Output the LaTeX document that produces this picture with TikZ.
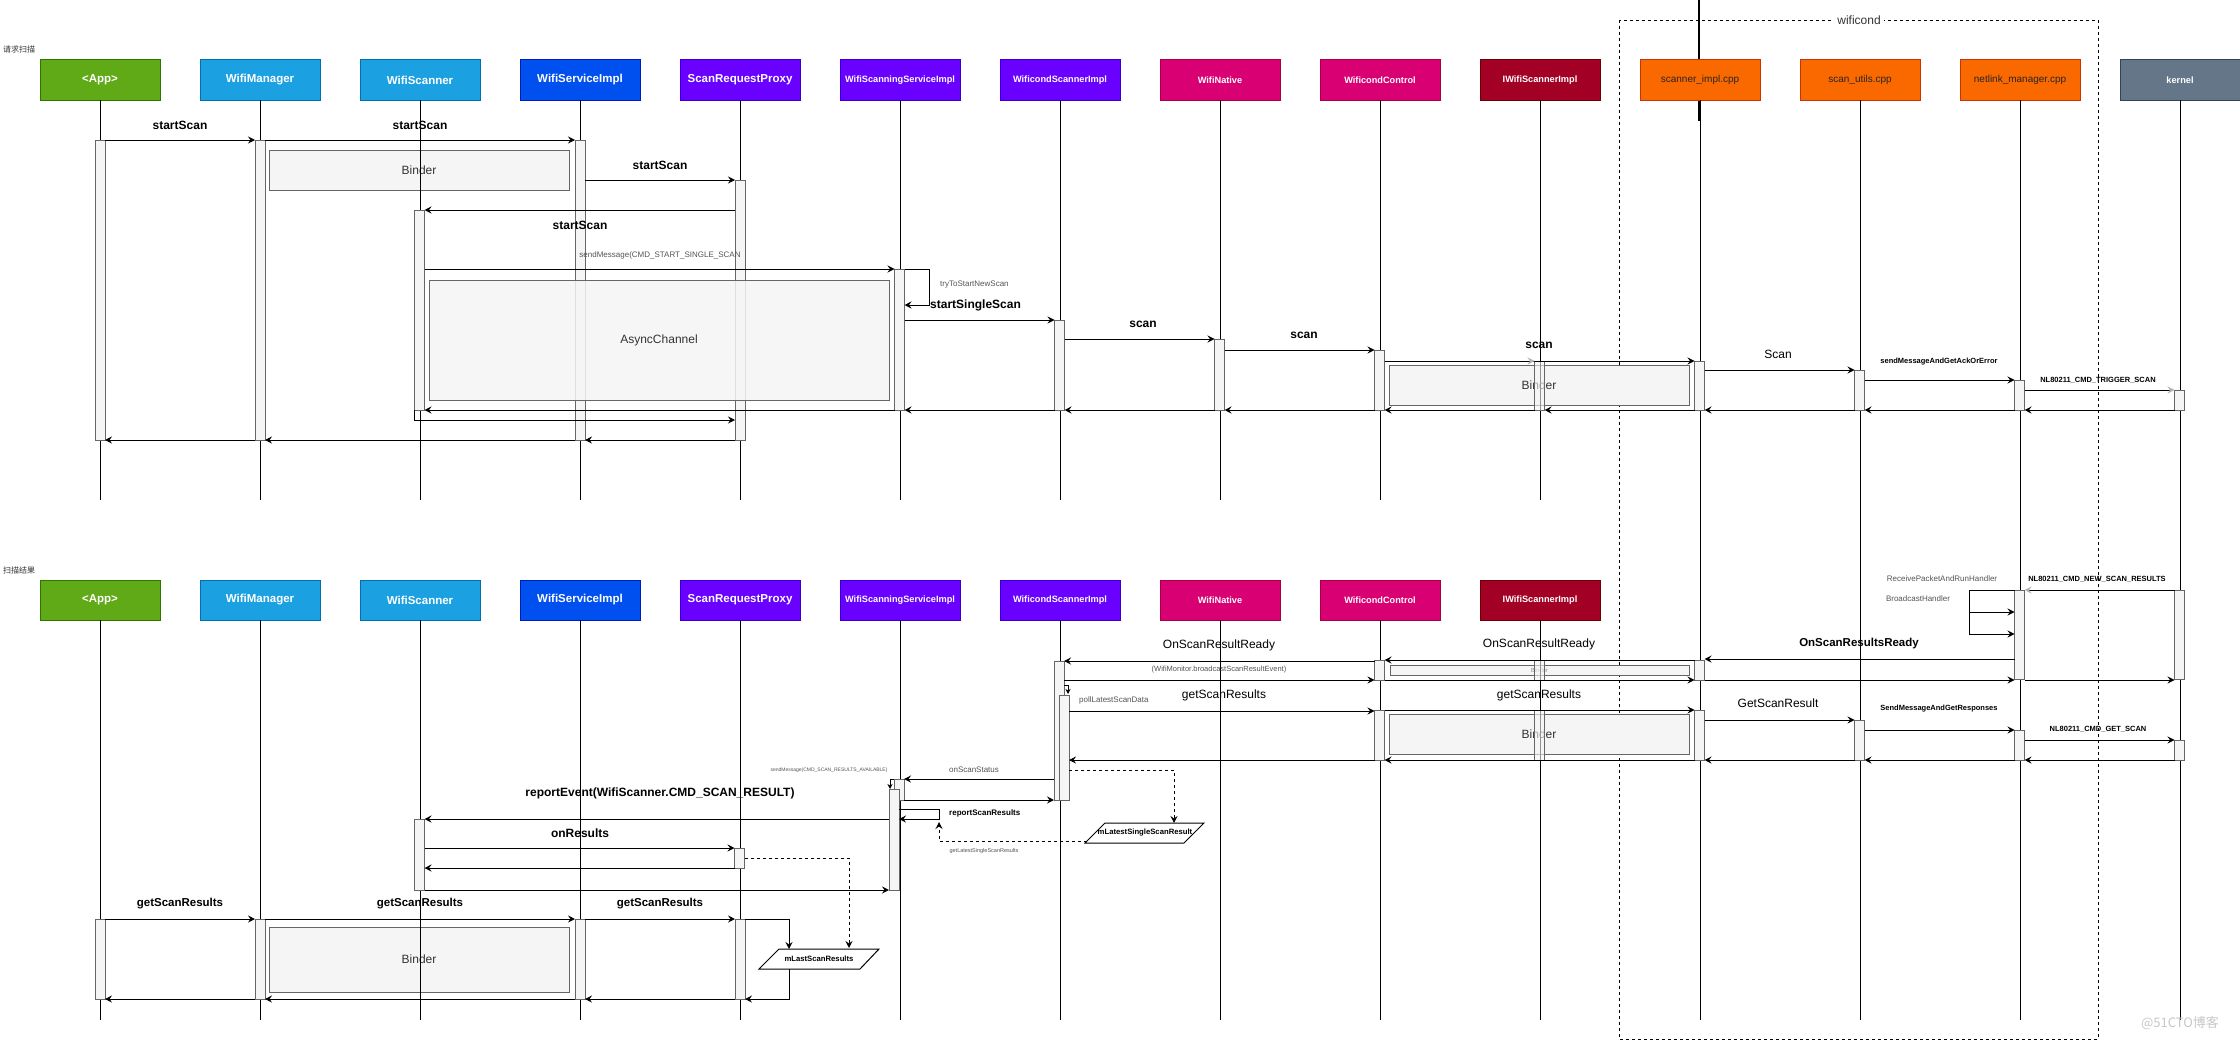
\documentclass[tikz,border=0pt]{standalone}
\usepackage{fontspec}
\setmainfont{Liberation Sans}
\newfontfamily\cjk{Noto Sans CJK SC}
\usetikzlibrary{arrows.meta}
\newcommand\fs[1]{\fontsize{#1pt}{#1pt}\selectfont}
\definecolor{cApp}{HTML}{60A917}\definecolor{bApp}{HTML}{2D7600}
\definecolor{cBlue}{HTML}{1BA1E2}\definecolor{bBlue}{HTML}{006EAF}
\definecolor{cCob}{HTML}{0050EF}\definecolor{bCob}{HTML}{001DBC}
\definecolor{cVio}{HTML}{6A00FF}\definecolor{bVio}{HTML}{3700CC}
\definecolor{cMag}{HTML}{D80073}\definecolor{bMag}{HTML}{A50040}
\definecolor{cCri}{HTML}{A20025}\definecolor{bCri}{HTML}{6F0000}
\definecolor{cOr}{HTML}{FA6800}\definecolor{bOr}{HTML}{C73500}
\definecolor{cSl}{HTML}{647687}\definecolor{bSl}{HTML}{314354}
\definecolor{barfill}{HTML}{F5F5F5}\definecolor{barline}{HTML}{666666}
\definecolor{tx3}{HTML}{333333}\definecolor{tx5}{HTML}{555555}
\begin{document}
\begin{tikzpicture}[x=1pt,y=-1pt,
 hdr/.style={draw,line width=1pt,minimum width=120pt,minimum height=40pt,inner sep=0pt,outer sep=0pt,text=white,font=\bfseries\fs{9.2}},
 hdrL/.style={hdr,font=\bfseries\fs{11.5}},
 hdrO/.style={hdr,fill=cOr,draw=bOr,text=black!85,font=\fs{10}},
 life/.style={line width=0.9pt,draw=black},
 actbar/.style={draw=barline,fill=barfill,line width=0.9pt,minimum width=10pt,inner sep=0pt,outer sep=0pt,anchor=north},
 msg/.style={line width=1pt,-{Stealth[length=7pt,width=7pt,inset=2.5pt]}},
 smsg/.style={line width=1pt,-{Stealth[length=5pt,width=5pt,inset=1.5pt]}},
 gmsg/.style={line width=1pt,-{Stealth[length=7pt,width=7pt,inset=2.5pt,color=black!30]}},
 dmsg/.style={msg,dash pattern=on 3pt off 3pt},
 seg/.style={line width=1pt},
 boxg/.style={draw=barline,fill=barfill,line width=1pt,text=tx3,font=\fs{12},inner sep=0pt,outer sep=0pt,anchor=north west},
 lb/.style={font=\bfseries\fs{12},inner sep=0pt},
 lr/.style={font=\fs{12},inner sep=0pt},
 sg/.style={font=\fs{8},text=tx5,inner sep=0pt},
 sb/.style={font=\bfseries\fs{7.5},inner sep=0pt},
]
\useasboundingbox[fill=white] (0,0) rectangle (2240,1041);
% thick line at top of scanner_impl
\coordinate (tl0) at (1699,0);
\coordinate (tl1) at (1699,121);
\draw[line width=1.6pt] (tl0) -- (tl1);
% wificond group
\draw[line width=0.8pt,dash pattern=on 3pt off 3pt] (1619,20) rectangle (2098,1039);
\node[fill=white,font=\fs{12},text=tx3,inner sep=3pt] (wfl) at (1859,20) {wificond};
% section titles
\node[font=\cjk\fs{8},text=tx3,anchor=west,inner sep=0pt] (t1) at (3,49) {请求扫描};
\node[font=\cjk\fs{8},text=tx3,anchor=west,inner sep=0pt] (t2) at (3,570) {扫描结果};
% ---------- headers top
\node[hdrL,fill=cApp,draw=bApp] (hA1) at (100,80) {<App>};
\node[hdrL,fill=cBlue,draw=bBlue] (hM1) at (260,80) {WifiManager};
\node[hdrL,fill=cBlue,draw=bBlue] (hW1) at (420,80) {WifiScanner};
\node[hdrL,fill=cCob,draw=bCob] (hS1) at (580,80) {WifiServiceImpl};
\node[hdrL,fill=cVio,draw=bVio] (hP1) at (740,80) {ScanRequestProxy};
\node[hdr,fill=cVio,draw=bVio] (hSS1) at (900,80) {WifiScanningServiceImpl};
\node[hdr,fill=cVio,draw=bVio] (hC1) at (1060,80) {WificondScannerImpl};
\node[hdr,fill=cMag,draw=bMag] (hN1) at (1220,80) {WifiNative};
\node[hdr,fill=cMag,draw=bMag] (hWC1) at (1380,80) {WificondControl};
\node[hdr,fill=cCri,draw=bCri] (hI1) at (1540,80) {IWifiScannerImpl};
\node[hdrO] (hSc) at (1700,80) {scanner\_impl.cpp};
\node[hdrO] (hU) at (1860,80) {scan\_utils.cpp};
\node[hdrO] (hNl) at (2020,80) {netlink\_manager.cpp};
\node[hdr,fill=cSl,draw=bSl] (hK) at (2180,80) {kernel};
% ---------- headers bottom
\node[hdrL,fill=cApp,draw=bApp] (hA2) at (100,600) {<App>};
\node[hdrL,fill=cBlue,draw=bBlue] (hM2) at (260,600) {WifiManager};
\node[hdrL,fill=cBlue,draw=bBlue] (hW2) at (420,600) {WifiScanner};
\node[hdrL,fill=cCob,draw=bCob] (hS2) at (580,600) {WifiServiceImpl};
\node[hdrL,fill=cVio,draw=bVio] (hP2) at (740,600) {ScanRequestProxy};
\node[hdr,fill=cVio,draw=bVio] (hSS2) at (900,600) {WifiScanningServiceImpl};
\node[hdr,fill=cVio,draw=bVio] (hC2) at (1060,600) {WificondScannerImpl};
\node[hdr,fill=cMag,draw=bMag] (hN2) at (1220,600) {WifiNative};
\node[hdr,fill=cMag,draw=bMag] (hWC2) at (1380,600) {WificondControl};
\node[hdr,fill=cCri,draw=bCri] (hI2) at (1540,600) {IWifiScannerImpl};
% ---------- grey boxes (behind lifelines)
\node[boxg,minimum width=300pt,minimum height=40pt] (bnd1) at (269,150) {Binder};
\node[boxg,minimum width=300pt,minimum height=40pt] (bnd2) at (1389,365) {Binder};
\node[boxg,minimum width=299pt,minimum height=10pt,font=\fs{6},text=black!40] (bnd3) at (1390,665) {Binder};
\node[boxg,minimum width=300pt,minimum height=40pt] (bnd4) at (1389,714) {Binder};
\node[boxg,minimum width=300pt,minimum height=65pt] (bnd5) at (269,927) {Binder};
% ---------- lifelines
\foreach \n in {hA1,hM1,hW1,hS1,hP1,hSS1,hC1,hN1,hWC1,hI1,hA2,hM2,hW2,hS2,hP2,hSS2,hC2,hN2,hWC2,hI2}
  \draw[life] (\n.south) -- ++(0,400);
\foreach \n in {hSc,hU,hNl,hK}
  \draw[life] (\n.south) -- ++(0,920);
% ---------- activation bars top
\node[actbar,minimum height=300pt] (bA1) at (100,140) {};
\node[actbar,minimum height=300pt] (bM1) at (260,140) {};
\node[actbar,minimum height=300pt] (bS1) at (580,140) {};
\node[actbar,minimum height=260pt] (bP1) at (740,180) {};
\node[actbar,minimum height=200pt] (bW1) at (419.5,210) {};
\node[actbar,minimum height=141pt] (bSS1) at (899.5,269) {};
\node[actbar,minimum height=90pt] (bC1) at (1059.5,320) {};
\node[actbar,minimum height=71pt] (bN1) at (1219.5,339) {};
\node[actbar,minimum height=60pt] (bWC1) at (1379.5,350) {};
\node[actbar,minimum height=49pt,fill opacity=0.6] (bI1) at (1539.5,361) {};
\node[actbar,minimum height=49pt] (bSc1) at (1699.5,361) {};
\node[actbar,minimum height=40pt] (bU1) at (1859.5,370) {};
\node[actbar,minimum height=30pt] (bNl1) at (2019.5,380) {};
\node[actbar,minimum height=20pt] (bK1) at (2179.5,390) {};
% AsyncChannel box over bars
\node[boxg,minimum width=460pt,minimum height=120pt,fill opacity=0.85,text opacity=1] (async) at (429,280) {AsyncChannel};
% ---------- activation bars bottom
\node[actbar,minimum height=89pt] (bNl2) at (2019.5,590) {};
\node[actbar,minimum height=89pt] (bK2) at (2179.5,590) {};
\node[actbar,minimum height=20pt] (bSc2) at (1699.5,660) {};
\node[actbar,minimum height=20pt] (bWC2) at (1379.5,660) {};
\node[actbar,minimum height=20pt,fill opacity=0.6] (bI2) at (1539.5,660) {};
\node[actbar,minimum height=139pt] (bC2) at (1059,661) {};
\node[actbar,minimum height=105pt] (bC3) at (1064,695) {};
\node[actbar,minimum height=50pt] (bWC3) at (1379.5,710) {};
\node[actbar,minimum height=50pt,fill opacity=0.6] (bI3) at (1539.5,710) {};
\node[actbar,minimum height=50pt] (bSc3) at (1699.5,710) {};
\node[actbar,minimum height=40pt] (bU3) at (1859.5,720) {};
\node[actbar,minimum height=30pt] (bNl3) at (2019.5,730) {};
\node[actbar,minimum height=20pt] (bK3) at (2179.5,740) {};
\node[actbar,minimum height=21pt] (bSS2) at (899,779) {};
\node[actbar,minimum height=101pt] (bSS3) at (894,789) {};
\node[actbar,minimum height=71pt] (bW2) at (419.5,819) {};
\node[actbar,minimum height=20pt] (bP2) at (739.5,848) {};
\node[actbar,minimum height=80pt] (bA3) at (100,919) {};
\node[actbar,minimum height=80pt] (bM3) at (260,919) {};
\node[actbar,minimum height=80pt] (bS3) at (580,919) {};
\node[actbar,minimum height=80pt] (bP3) at (740,919) {};
% ---------- top messages
\draw[msg] (bA1.east |- 0,140) -- (bM1.west |- 0,140);
\draw[msg] (bM1.east |- 0,140) -- (bS1.west |- 0,140);
\draw[msg] (bS1.east |- 0,180) -- (bP1.west |- 0,180);
\draw[msg] (bP1.west |- 0,210) -- (bW1.east |- 0,210);
\draw[msg] (bW1.east |- 0,269) -- (bSS1.west |- 0,269);
\draw[msg] (bSS1.east |- 0,269) -- ++(25,0) -- ++(0,36) -- (bSS1.east |- 0,305);
\draw[msg] (bSS1.east |- 0,320) -- (bC1.west |- 0,320);
\draw[msg] (bC1.east |- 0,339) -- (bN1.west |- 0,339);
\draw[msg] (bN1.east |- 0,350) -- (bWC1.west |- 0,350);
\draw[msg] (bWC1.east |- 0,361) -- (bSc1.west |- 0,361);
\draw[gmsg] (bI1.west |- 0,361) ++(-9,0) -- (bI1.west |- 0,361);
\draw[msg] (bSc1.east |- 0,370) -- (bU1.west |- 0,370);
\draw[msg] (bU1.east |- 0,380) -- (bNl1.west |- 0,380);
\draw[gmsg] (bNl1.east |- 0,390) -- (bK1.west |- 0,390);
\draw[msg] (bK1.south west) -- (bNl1.south east);
\draw[msg] (bNl1.south west) -- (bU1.south east);
\draw[msg] (bU1.south west) -- (bSc1.south east);
\draw[msg] (bSc1.south west) -- (bI1.south east);
\draw[msg] (bI1.south west) -- (bWC1.south east);
\draw[msg] (bWC1.south west) -- (bN1.south east);
\draw[msg] (bN1.south west) -- (bC1.south east);
\draw[msg] (bC1.south west) -- (bSS1.south east);
\draw[msg] (bSS1.south west) -- (bW1.south east);
\draw[msg] (bW1.south west) -- ++(0,10) -- (bP1.west |- 0,420);
\draw[msg] (bP1.south west) -- (bS1.south east);
\draw[msg] (bS1.south west) -- (bM1.south east);
\draw[msg] (bM1.south west) -- (bA1.south east);
% top labels
\node[lb] (l1) at (180,125) {startScan};
\node[lb] (l2) at (420,125) {startScan};
\node[lb] (l3) at (660,165) {startScan};
\node[lb] (l4) at (580,225) {startScan};
\node[sg] (l5) at (660,255) {sendMessage(CMD\_START\_SINGLE\_SCAN};
\node[sg,anchor=west] (l6) at (940,285) {tryToStartNewScan};
\node[lb,anchor=west] (l7) at (930,305) {startSingleScan};
\node[lb] (l8) at (1143,324) {scan};
\node[lb] (l9) at (1304,335) {scan};
\node[lb] (l10) at (1539,345) {scan};
\node[lr] (l11) at (1778,354) {Scan};
\node[sb] (l12) at (1939,362) {sendMessageAndGetAckOrError};
\node[sb] (l13) at (2098,380) {NL80211\_CMD\_TRIGGER\_SCAN};
% ---------- bottom messages
\draw[gmsg] (bK2.west |- 0,590) -- (bNl2.east |- 0,590);
\coordinate (lp0) at (1969,590);
\coordinate (lp1) at (1969,612);
\coordinate (lp2) at (1969,634);
\draw[seg] (bNl2.west |- 0,590) -- (lp0) -- (lp2);
\draw[msg] (lp1) -- (bNl2.west |- lp1);
\draw[msg] (lp2) -- (bNl2.west |- lp2);
\draw[msg] (bNl2.west |- 0,659) -- (bSc2.east |- 0,659);
\draw[msg] (bSc2.west |- 0,660) -- (bWC2.east |- 0,660);
\draw[msg] (bWC2.west |- 0,661) -- (bC2.east |- 0,661);
\draw[msg] (bC2.east |- 0,680) -- (bWC2.south west);
\draw[msg] (bWC2.south east) -- (bSc2.south west);
\draw[msg] (bSc2.south east) -- (bNl2.west |- 0,680);
\draw[msg] (bNl2.east |- 0,680) -- (bK2.west |- 0,680);
\draw[smsg] (bC2.east |- 0,685) -- ++(4,0) -- ++(0,9);
\draw[msg] (bC3.east |- 0,711) -- (bWC3.west |- 0,711);
\draw[msg] (bWC3.east |- 0,710) -- (bSc3.west |- 0,710);
\draw[msg] (bSc3.east |- 0,720) -- (bU3.west |- 0,720);
\draw[msg] (bU3.east |- 0,730) -- (bNl3.west |- 0,730);
\draw[msg] (bNl3.east |- 0,740) -- (bK3.west |- 0,740);
\draw[msg] (bK3.south west) -- (bNl3.south east);
\draw[msg] (bNl3.south west) -- (bU3.south east);
\draw[msg] (bU3.south west) -- (bSc3.south east);
\draw[msg] (bSc3.south west) -- (bWC3.south east);
\draw[msg] (bWC3.south west) -- (bC3.east |- 0,760);
\draw[msg] (bC2.west |- 0,779) -- (bSS2.east |- 0,779);
\draw[smsg] (bSS2.west |- 0,779) -- ++(-4,0) -- ++(0,10);
\draw[msg] (bSS2.south east) -- (bC2.west |- 0,800);
% mLatestSingleScanResult
\coordinate (pLtop) at (1174,823);
\coordinate (pLleft) at (1087,841);
\coordinate (rsb) at (939,841);
\coordinate (rst) at (939,822);
\draw[seg,fill=white] (1105,823) -- (1204,823) -- (1184,843) -- (1085,843) -- cycle;
\node[sb,font=\bfseries\fs{7.7}] (pLatest) at (1145,833) {mLatestSingleScanResult};
\draw[dmsg] (bC3.east |- 0,770) -- (pLtop |- 0,770) -- (pLtop);
\draw[dmsg] (pLleft) -- (rsb) -- (rst);
\draw[msg] (bSS3.east |- 0,809) -- ++(40,0) -- ++(0,10) -- (bSS3.east |- 0,819);
\draw[msg] (bSS3.west |- 0,819) -- (bW2.east |- 0,819);
\draw[msg] (bW2.east |- 0,848) -- (bP2.west |- 0,848);
\draw[msg] (bP2.south west) -- (bW2.east |- 0,868);
% mLastScanResults
\coordinate (mLtop) at (789,949);
\coordinate (mLbot) at (789,969);
\coordinate (mLdash) at (849,948);
\draw[seg,fill=white] (779,949) -- (879,949) -- (860,969) -- (759,969) -- cycle;
\node[sb,font=\bfseries\fs{7.7}] (pLast) at (819,959) {mLastScanResults};
\draw[dmsg] (bP2.east |- 0,858) -- (mLdash |- 0,858) -- (mLdash);
\draw[msg] (bW2.south east) -- (bSS3.west |- 0,890);
\draw[msg] (bA3.east |- 0,919) -- (bM3.west |- 0,919);
\draw[msg] (bM3.east |- 0,919) -- (bS3.west |- 0,919);
\draw[msg] (bS3.east |- 0,919) -- (bP3.west |- 0,919);
\draw[msg] (bP3.east |- 0,919) -- (mLtop |- 0,919) -- (mLtop);
\draw[msg] (mLbot) -- (mLbot |- 0,999) -- (bP3.south east);
\draw[msg] (bP3.south west) -- (bS3.south east);
\draw[msg] (bS3.south west) -- (bM3.south east);
\draw[msg] (bM3.south west) -- (bA3.south east);
% bottom labels
\node[sb] (m1) at (2097,579) {NL80211\_CMD\_NEW\_SCAN\_RESULTS};
\node[sg] (m2) at (1942,579) {ReceivePacketAndRunHandler};
\node[sg] (m3) at (1918,599) {BroadcastHandler};
\node[font=\bfseries\fs{11.5},inner sep=0pt] (m4) at (1859,644) {OnScanResultsReady};
\node[lr] (m5) at (1539,644) {OnScanResultReady};
\node[lr] (m6) at (1219,645) {OnScanResultReady};
\node[sg,font=\fs{7.5}] (m7) at (1219,670) {(WifiMonitor.broadcastScanResultEvent)};
\node[sg,anchor=west] (m8) at (1079,700) {pollLatestScanData};
\node[lr] (m9) at (1224,695) {getScanResults};
\node[lr] (m10) at (1539,695) {getScanResults};
\node[lr] (m11) at (1778,703) {GetScanResult};
\node[sb] (m12) at (1939,709) {SendMessageAndGetResponses};
\node[sb] (m13) at (2098,729) {NL80211\_CMD\_GET\_SCAN};
\node[sg] (m14) at (974,770) {onScanStatus};
\node[sg,font=\fs{5}] (m15) at (829,770) {sendMessage(CMD\_SCAN\_RESULTS\_AVAILABLE)};
\node[sb,font=\bfseries\fs{8},anchor=west] (m16) at (949,813) {reportScanResults};
\node[sg,font=\fs{5.5}] (m17) at (984,851) {getLatestSingleScanResults};
\node[lb] (m18) at (660,793) {reportEvent(WifiScanner.CMD\_SCAN\_RESULT)};
\node[lb] (m19) at (580,833) {onResults};
\node[lb,font=\bfseries\fs{11.5}] (m20) at (180,904) {getScanResults};
\node[lb,font=\bfseries\fs{11.5}] (m21) at (420,904) {getScanResults};
\node[lb,font=\bfseries\fs{11.5}] (m22) at (660,904) {getScanResults};
% watermark
\node[font=\cjk\fs{13},text=black!22,inner sep=0pt] (wmk) at (2180,1023) {@51CTO博客};
\end{tikzpicture}
\end{document}
